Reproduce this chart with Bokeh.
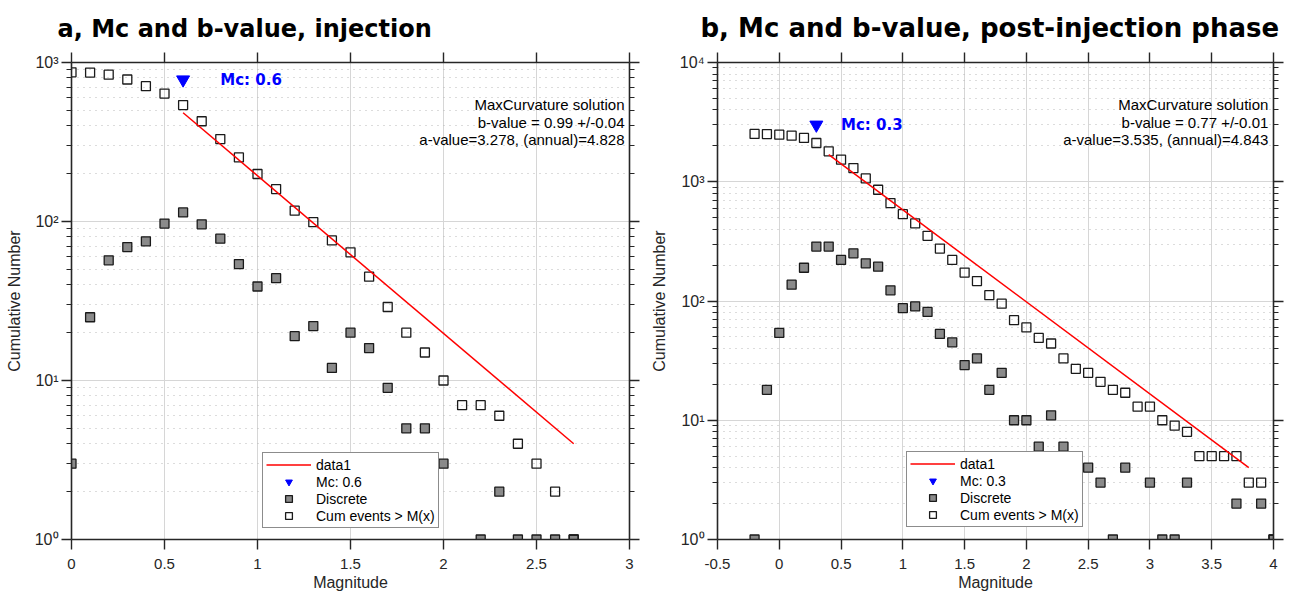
from bokeh.plotting import figure
from bokeh.models import (LinearAxis, LogAxis, FixedTicker, Range1d, Legend,
                          LegendItem, Label, CustomJSTickFormatter)
from bokeh.layouts import row
from bokeh.embed import file_html
from bokeh.resources import INLINE

# ---------------- panel a: injection ----------------
mag_a = [0.0, 0.1, 0.2, 0.3, 0.4, 0.5, 0.6, 0.7, 0.8, 0.9, 1.0, 1.1, 1.2, 1.3,
         1.4, 1.5, 1.6, 1.7, 1.8, 1.9, 2.0, 2.1, 2.2, 2.3, 2.4, 2.5, 2.6, 2.7]
discrete_a = [3, 25, 57, 69, 75, 97, 114, 96, 78, 54, 39, 44, 19, 22,
              12, 20, 16, 9, 5, 5, 3, 0, 1, 2, 1, 1, 1, 1]
cum_a = [867, 864, 838, 782, 710, 638, 540, 427, 330, 253, 199, 160, 117, 99,
         76, 64, 45, 29, 20, 15, 10, 7, 7, 6, 4, 3, 2, 1]
fit_mag_a = [0.6, 2.7]
fit_n_a = [483, 4.0]
mc_a = 0.6
mc_n_a = 780

# ---------------- panel b: post-injection ----------------
mag_b = [-0.2, -0.1, 0.0, 0.1, 0.2, 0.3, 0.4, 0.5, 0.6, 0.7, 0.8, 0.9, 1.0,
         1.1, 1.2, 1.3, 1.4, 1.5, 1.6, 1.7, 1.8, 1.9, 2.0, 2.1, 2.2, 2.3,
         2.4, 2.5, 2.6, 2.7, 2.8, 2.9, 3.0, 3.1, 3.2, 3.3, 3.4, 3.5, 3.6,
         3.7, 3.8, 3.9, 4.0]
discrete_b = [1, 18, 54, 137, 190, 286, 286, 221, 251, 207, 194, 123, 87,
              90, 81, 53, 45, 29, 33, 18, 25, 10, 10, 6, 11, 6,
              2, 4, 3, 1, 4, 0, 3, 1, 1, 3, 0, 0, 0,
              2, 0, 2, 1]
cum_b = [2518, 2510, 2483, 2436, 2330, 2113, 1798, 1531, 1303, 1066, 857, 662, 535,
         447, 352, 275, 221, 173, 147, 112, 95, 69, 60, 49, 44, 33,
         27, 25, 21, 18, 17, 13, 13, 10, 9, 8, 5, 5, 5,
         5, 3, 3, 1]
fit_mag_b = [0.4, 3.8]
fit_n_b = [1690, 4.0]
mc_b = 0.3
mc_n_b = 3000

# ---------------- texts ----------------
title_a = "a, Mc and b-value, injection"
title_b = "b, Mc and b-value, post-injection phase"
annot_a = ["MaxCurvature solution", "b-value = 0.99 +/-0.04", "a-value=3.278, (annual)=4.828"]
annot_b = ["MaxCurvature solution", "b-value = 0.77 +/-0.01", "a-value=3.535, (annual)=4.843"]
legend_a = ["data1", "Mc: 0.6", "Discrete", "Cum events > M(x)"]
legend_b = ["data1", "Mc: 0.3", "Discrete", "Cum events > M(x)"]
mc_text_a = "Mc: 0.6"
mc_text_b = "Mc: 0.3"

xticks_a = [0, 0.5, 1, 1.5, 2, 2.5, 3]
xlabels_a = ["0", "0.5", "1", "1.5", "2", "2.5", "3"]
xticks_b = [-0.5, 0, 0.5, 1, 1.5, 2, 2.5, 3, 3.5, 4]
xlabels_b = ["-0.5", "0", "0.5", "1", "1.5", "2", "2.5", "3", "3.5", "4"]
yticks_a = [1, 10, 100, 1000]
ylabels_a = ["10\u2070", "10\u00b9", "10\u00b2", "10\u00b3"]
yticks_b = [1, 10, 100, 1000, 10000]
ylabels_b = ["10\u2070", "10\u00b9", "10\u00b2", "10\u00b3", "10\u2074"]

AX = "#262626"
TICK_FONT = "Liberation Sans"


def make_panel(title, title_size, title_offset, mags, disc, cum, fit_x, fit_y, mc, mc_n,
               mc_text, x_start, x_end, y_end, xticks, xlabels, yticks, ylabels,
               annot, annot_x, annot_y, legend_labels, legend_loc,
               border_left, border_right, frame_w):
    p = figure(frame_width=frame_w, frame_height=477,
               x_range=Range1d(x_start, x_end), y_range=Range1d(1, y_end),
               y_axis_type="log", output_backend="svg", toolbar_location=None,
               min_border_left=border_left, min_border_right=border_right,
               min_border_top=62, min_border_bottom=59, title=title,
               background_fill_color="white", border_fill_color="white",
               outline_line_color=None)
    p.title.text_font = "DejaVu Sans"
    p.title.text_font_size = title_size
    p.title.text_font_style = "bold"
    p.title.text_color = "black"
    p.title.align = "left"
    p.title.offset = title_offset
    p.title.standoff = 20

    minor = []
    dec = 1
    while dec < y_end:
        minor += [m * dec for m in range(2, 10)]
        dec *= 10
    xticker = FixedTicker(ticks=xticks, minor_ticks=[])
    yticker = FixedTicker(ticks=yticks, minor_ticks=minor)

    bottom = p.below[0]
    left = p.left[0]
    bottom.ticker = xticker
    left.ticker = yticker
    bottom.major_label_overrides = dict(zip(xticks, xlabels))
    left.major_label_overrides = dict(zip(yticks, ylabels))
    bottom.axis_label = "Magnitude"
    left.axis_label = "Cumulative Number"

    top = LinearAxis(ticker=xticker, formatter=CustomJSTickFormatter(code="return '';"))
    right = LogAxis(ticker=yticker, formatter=CustomJSTickFormatter(code="return '';"))
    p.add_layout(top, "above")
    p.add_layout(right, "right")

    for ax in [bottom, left, top, right]:
        ax.axis_line_color = AX
        ax.axis_line_width = 1.6
        ax.major_tick_line_color = AX
        ax.major_tick_line_width = 1.4
        ax.minor_tick_line_color = AX
        ax.minor_tick_line_width = 1.2
        ax.major_tick_out = 10
        ax.major_tick_in = 0
        ax.minor_tick_out = 5
        ax.minor_tick_in = 0
        ax.major_label_text_font = TICK_FONT
        ax.major_label_text_color = AX
        ax.axis_label_text_font = TICK_FONT
        ax.axis_label_text_font_size = "16px"
        ax.axis_label_text_font_style = "normal"
        ax.axis_label_text_color = AX
    for ax in [bottom, top]:
        ax.minor_tick_out = 0
    for ax in [top, right]:
        ax.major_label_text_font_size = "2px"
        ax.major_label_standoff = 0
    bottom.major_label_text_font_size = "15px"
    left.major_label_text_font_size = "16px"
    bottom.major_label_standoff = 9
    bottom.axis_label_standoff = 2
    left.major_label_standoff = 3
    left.axis_label_standoff = 9

    p.xgrid.ticker = xticker
    p.ygrid.ticker = yticker
    p.xgrid.grid_line_color = "#d6d6d6"
    p.ygrid.grid_line_color = "#d6d6d6"
    p.xgrid.grid_line_width = 1
    p.ygrid.grid_line_width = 1
    p.ygrid.minor_grid_line_color = "#b8b8b8"
    p.ygrid.minor_grid_line_dash = "1 5"
    p.ygrid.minor_grid_line_width = 1

    xd = [m for m, d in zip(mags, disc) if d > 0]
    yd = [d for d in disc if d > 0]
    r_disc = p.scatter(xd, yd, marker="square", size=9, fill_color="#8a8a8a",
                       line_color="#1a1a1a", line_width=1.3)
    r_cum = p.scatter(mags, cum, marker="square", size=9, fill_color=None,
                      line_color="#1a1a1a", line_width=1.3)
    r_fit = p.line(fit_x, fit_y, line_color="#ff0000", line_width=1.5)
    r_mc = p.scatter([mc], [mc_n], marker="inverted_triangle", size=13,
                     fill_color="#0000ff", line_color="#0000ff")

    p.add_layout(Label(x=mc + 0.2, y=mc_n, text=mc_text, text_font="DejaVu Sans",
                       text_font_size="15px", text_font_style="bold",
                       text_color="#0000ff", text_baseline="middle"))
    for txt, yy in zip(annot, annot_y):
        p.add_layout(Label(x=annot_x, y=yy, text=txt, text_font=TICK_FONT,
                           text_font_size="15px", text_color="black",
                           text_align="right", text_baseline="middle"))

    legend = Legend(items=[LegendItem(label=legend_labels[0], renderers=[r_fit]),
                           LegendItem(label=legend_labels[1], renderers=[r_mc]),
                           LegendItem(label=legend_labels[2], renderers=[r_disc]),
                           LegendItem(label=legend_labels[3], renderers=[r_cum])],
                    location=legend_loc)
    legend.label_text_font = TICK_FONT
    legend.label_text_font_size = "14px"
    legend.label_text_color = "black"
    legend.glyph_width = 45
    legend.glyph_height = 17
    legend.label_height = 17
    legend.spacing = 0
    legend.padding = 3
    legend.margin = 0
    legend.label_standoff = 5
    legend.border_line_color = "#1a1a1a"
    legend.border_line_width = 1.2
    legend.background_fill_color = "white"
    legend.background_fill_alpha = 1
    p.add_layout(legend)
    return p


pa = make_panel(title_a, "24px", -14, mag_a, discrete_a, cum_a, fit_mag_a, fit_n_a, mc_a,
                mc_n_a, mc_text_a, 0, 3, 1000, xticks_a, xlabels_a, yticks_a, ylabels_a,
                annot_a, 2.973, [545, 420, 328], legend_a, (191, 11), 71, 16, 558)
pb = make_panel(title_b, "26px", -17, mag_b, discrete_b, cum_b, fit_mag_b, fit_n_b, mc_b,
                mc_n_b, mc_text_b, -0.5, 4, 10000, xticks_b, xlabels_b, yticks_b, ylabels_b,
                annot_b, 3.958, [4437, 3133, 2253], legend_b, (189, 12), 72, 17, 556)

layout = row(pa, pb)
open("out.html", "w").write(file_html(layout, INLINE))
